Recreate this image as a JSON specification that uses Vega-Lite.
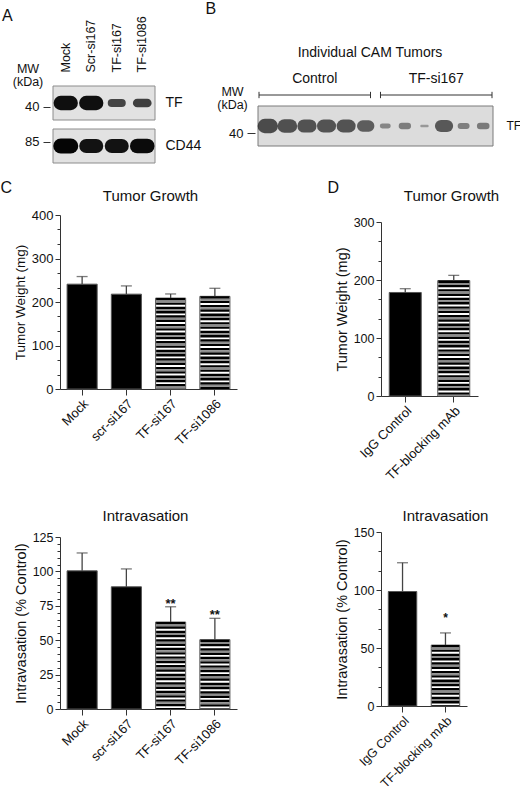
{
 "$schema": "https://vega.github.io/schema/vega-lite/v6.json",
 "background": "white",
 "padding": {"left": 0, "top": 0, "right": 2, "bottom": 2},
 "config": {
  "font": "Liberation Sans",
  "view": {"stroke": null},
  "axis": {"grid": false, "domainColor": "#333333", "tickColor": "#333333", "labelColor": "#111111", "titleColor": "#111111", "titleFontWeight": "normal", "labelFont": "Liberation Sans", "titleFont": "Liberation Sans", "labelOverlap": false}
 },
 "datasets": {
  "blotA_rows": [{"protein": "TF", "marker": "40"}, {"protein": "CD44", "marker": "85"}],
  "blotA_bands": [
   {"lane": "Mock", "protein": "TF", "intensity": 0.95},
   {"lane": "Scr-si167", "protein": "TF", "intensity": 0.95},
   {"lane": "TF-si167", "protein": "TF", "intensity": 0.5},
   {"lane": "TF-si1086", "protein": "TF", "intensity": 0.55},
   {"lane": "Mock", "protein": "CD44", "intensity": 1.0},
   {"lane": "Scr-si167", "protein": "CD44", "intensity": 0.93},
   {"lane": "TF-si167", "protein": "CD44", "intensity": 0.93},
   {"lane": "TF-si1086", "protein": "CD44", "intensity": 0.97}
  ],
  "blotB_rows": [{"protein": "TF", "marker": "40"}],
  "blotB_groups": [{"group": "Control"}, {"group": "TF-si167"}],
  "blotB_bands": [
   {"lane": 1, "group": "Control", "protein": "TF", "intensity": 0.95},
   {"lane": 2, "group": "Control", "protein": "TF", "intensity": 0.9},
   {"lane": 3, "group": "Control", "protein": "TF", "intensity": 0.87},
   {"lane": 4, "group": "Control", "protein": "TF", "intensity": 0.86},
   {"lane": 5, "group": "Control", "protein": "TF", "intensity": 0.86},
   {"lane": 6, "group": "Control", "protein": "TF", "intensity": 0.74},
   {"lane": 7, "group": "TF-si167", "protein": "TF", "intensity": 0.28},
   {"lane": 8, "group": "TF-si167", "protein": "TF", "intensity": 0.38},
   {"lane": 9, "group": "TF-si167", "protein": "TF", "intensity": 0.1},
   {"lane": 10, "group": "TF-si167", "protein": "TF", "intensity": 0.8},
   {"lane": 11, "group": "TF-si167", "protein": "TF", "intensity": 0.35},
   {"lane": 12, "group": "TF-si167", "protein": "TF", "intensity": 0.4}
  ],
  "growth_si": [
   {"treatment": "Mock", "target": "control", "mean": 241, "upper": 258.5},
   {"treatment": "scr-si167", "target": "control", "mean": 218, "upper": 237},
   {"treatment": "TF-si167", "target": "TF", "mean": 209, "upper": 218.5},
   {"treatment": "TF-si1086", "target": "TF", "mean": 213, "upper": 231.5}
  ],
  "intrav_si": [
   {"treatment": "Mock", "target": "control", "mean": 100.4, "upper": 113.4, "sig": ""},
   {"treatment": "scr-si167", "target": "control", "mean": 88.8, "upper": 101.8, "sig": ""},
   {"treatment": "TF-si167", "target": "TF", "mean": 63.2, "upper": 74.3, "sig": "**"},
   {"treatment": "TF-si1086", "target": "TF", "mean": 50.4, "upper": 65.9, "sig": "**"}
  ],
  "growth_ab": [
   {"treatment": "IgG Control", "target": "control", "mean": 178.5, "upper": 185},
   {"treatment": "TF-blocking mAb", "target": "TF", "mean": 199, "upper": 208}
  ],
  "intrav_ab": [
   {"treatment": "IgG Control", "target": "control", "mean": 98.7, "upper": 123.5, "sig": ""},
   {"treatment": "TF-blocking mAb", "target": "TF", "mean": 52.5, "upper": 63, "sig": "*"}
  ]
 },
 "columns": 2,
 "spacing": {"row": 52, "column": 144},
 "bounds": "flush",
 "align": {"row": "each", "column": "each"},
 "concat": [
  {
   "width": 54, "height": 97,
   "layer": [
    {"data": {"name": "blotA_rows"},
     "mark": {"type": "rect", "fill": "#e2e2e2", "stroke": "#8c8c8c", "strokeWidth": 1},
     "encoding": {
      "x": {"datum": "Mock", "type": "nominal", "bandPosition": 0, "scale": {"type": "band", "domain": ["Mock", "Scr-si167", "TF-si167", "TF-si1086"], "paddingInner": 0, "paddingOuter": 0, "range": [-7, 95]}, "axis": null},
      "x2": {"datum": "TF-si1086", "bandPosition": 1},
      "y": {"field": "protein", "type": "nominal", "scale": {"type": "band", "domain": ["TF", "CD44"], "paddingInner": 0.2093, "paddingOuter": 0.2326, "align": 1},
            "axis": {"orient": "right", "offset": 51, "ticks": false, "domain": false, "labelPadding": 0, "labelFontSize": 14, "labelAlign": "left", "title": null}}
     }},
    {"data": {"name": "blotA_bands"},
     "mark": {"type": "point", "shape": "stroke", "filled": false, "size": 100, "strokeCap": "round", "opacity": 1},
     "encoding": {
      "x": {"field": "lane", "type": "nominal", "scale": {"type": "band", "domain": ["Mock", "Scr-si167", "TF-si167", "TF-si1086"], "paddingInner": 0, "paddingOuter": 0, "range": [-7, 95]},
            "axis": {"orient": "top", "offset": -7, "labelAngle": -90, "labelAlign": "left", "labelBaseline": "middle", "labelPadding": 1, "labelFontSize": 12.5, "ticks": false, "domain": false,
                     "title": "A", "titleX": -58.5, "titleY": -52.7, "titleAngle": 0, "titleAlign": "left", "titleBaseline": "alphabetic", "titleFontSize": 16}},
      "y": {"field": "protein", "type": "nominal", "scale": {"type": "band", "domain": ["TF", "CD44"], "paddingInner": 0.2093, "paddingOuter": 0.2326, "align": 1}, "axis": null},
      "strokeWidth": {"field": "intensity", "type": "quantitative", "scale": {"domain": [0, 1], "range": [1, 15]}, "legend": null},
      "stroke": {"field": "intensity", "type": "quantitative", "scale": {"domain": [0, 1], "range": ["#8a8a8a", "#050505"]}, "legend": null}
     }},
    {"data": {"name": "blotA_rows"},
     "mark": {"type": "point", "opacity": 0},
     "encoding": {
      "y": {"field": "marker", "type": "nominal", "scale": {"type": "point", "domain": ["40", "85"], "padding": 0.886, "align": 0.661},
            "axis": {"orient": "left", "offset": 10, "tickSize": 7, "domain": false, "labelPadding": 4, "labelFontSize": 13,
                     "title": ["MW", "(kDa)"], "titleAngle": 0, "titleAlign": "center", "titleBaseline": "alphabetic", "titleX": -22.5, "titleY": 6.7, "titleFontSize": 12.5, "titleLineHeight": 13}}
     }}
   ],
   "resolve": {"scale": {"x": "independent", "y": "independent"}, "axis": {"x": "independent", "y": "independent"}}
  },
  {
   "width": 112, "height": 80,
   "layer": [
    {"data": {"name": "blotB_rows"},
     "mark": {"type": "rect", "fill": "#dcdcdc", "stroke": "#7a7a7a", "strokeWidth": 1},
     "encoding": {
      "x": {"datum": 1, "type": "ordinal", "bandPosition": 0, "scale": {"type": "band", "domain": [1, 2, 3, 4, 5, 6, 7, 8, 9, 10, 11, 12], "paddingInner": 0, "paddingOuter": 0, "range": [-123, 112]}, "axis": null},
      "x2": {"datum": 12, "bandPosition": 1},
      "y": {"field": "protein", "type": "nominal", "scale": {"type": "band", "domain": ["TF"], "paddingInner": 0, "paddingOuter": 0.5, "align": 1},
            "axis": {"orient": "right", "offset": 0, "ticks": false, "domain": false, "labelPadding": 13, "labelFontSize": 12, "labelAlign": "left", "title": null}}
     }},
    {"data": {"name": "blotB_bands"},
     "mark": {"type": "point", "shape": "stroke", "filled": false, "size": 36, "strokeCap": "round"},
     "encoding": {
      "x": {"field": "lane", "type": "ordinal", "scale": {"type": "band", "domain": [1, 2, 3, 4, 5, 6, 7, 8, 9, 10, 11, 12], "paddingInner": 0, "paddingOuter": 0, "range": [-123, 112]},
            "axis": {"orient": "top", "labels": false, "ticks": false, "domain": false, "title": "B", "titleX": -176, "titleY": -52.7, "titleAngle": 0, "titleAlign": "left", "titleBaseline": "alphabetic", "titleFontSize": 16}},
      "y": {"field": "protein", "type": "nominal", "scale": {"type": "band", "domain": ["TF"], "paddingInner": 0, "paddingOuter": 0.5, "align": 1}, "axis": null},
      "strokeWidth": {"field": "intensity", "type": "quantitative", "scale": {"domain": [0, 1], "range": [1, 6]}, "legend": null},
      "stroke": {"field": "intensity", "type": "quantitative", "scale": {"domain": [0, 1], "range": ["#d0d0d0", "#080808"]}, "legend": null}
     }},
    {"data": {"name": "blotB_rows"},
     "mark": {"type": "point", "opacity": 0},
     "encoding": {
      "y": {"field": "marker", "type": "nominal", "scale": {"type": "point", "domain": ["40"], "align": 0.8375},
            "axis": {"orient": "left", "offset": 126, "tickSize": 8, "domain": false, "labelPadding": 4, "labelFontSize": 13,
                     "title": ["MW", "(kDa)"], "titleAngle": 0, "titleAlign": "center", "titleBaseline": "alphabetic", "titleX": -23, "titleY": 29, "titleFontSize": 12.5, "titleLineHeight": 13}}
     }},
    {"data": {"name": "blotB_groups"},
     "mark": {"type": "text", "fontSize": 14, "baseline": "alphabetic", "color": "#111"},
     "encoding": {
      "x": {"field": "group", "type": "nominal", "scale": {"type": "band", "domain": ["Control", "TF-si167"], "range": [-122, 111], "paddingInner": 0.0823, "paddingOuter": 0},
            "axis": {"orient": "top", "labels": false, "ticks": false, "domain": false, "title": "Individual CAM Tumors", "titleX": -11.5, "titleY": -10, "titleAngle": 0, "titleAlign": "center", "titleBaseline": "alphabetic", "titleFontSize": 14}},
      "y": {"datum": "groups", "type": "nominal", "bandPosition": 0.43, "scale": {"type": "band", "domain": ["groups", "blot"], "paddingInner": 0, "paddingOuter": 0}, "axis": null},
      "text": {"field": "group"}
     }},
    {"data": {"name": "blotB_groups"},
     "mark": {"type": "rule", "stroke": "#333", "strokeWidth": 1},
     "encoding": {
      "x": {"field": "group", "type": "nominal", "bandPosition": 0, "scale": {"type": "band", "domain": ["Control", "TF-si167"], "range": [-122, 111], "paddingInner": 0.0823, "paddingOuter": 0}, "axis": null},
      "x2": {"field": "group", "bandPosition": 1},
      "y": {"datum": "groups", "type": "nominal", "bandPosition": 0.725, "scale": {"type": "band", "domain": ["groups", "blot"], "paddingInner": 0, "paddingOuter": 0}, "axis": null}
     }},
    {"data": {"name": "blotB_groups"},
     "mark": {"type": "point", "shape": "M0,-1L0,1", "filled": false, "stroke": "#333", "strokeWidth": 1, "size": 40, "opacity": 1},
     "encoding": {
      "x": {"field": "group", "type": "nominal", "bandPosition": 0, "scale": {"type": "band", "domain": ["Control", "TF-si167"], "range": [-122, 111], "paddingInner": 0.0823, "paddingOuter": 0}, "axis": null},
      "y": {"datum": "groups", "type": "nominal", "bandPosition": 0.725, "scale": {"type": "band", "domain": ["groups", "blot"], "paddingInner": 0, "paddingOuter": 0}, "axis": null}
     }},
    {"data": {"name": "blotB_groups"},
     "mark": {"type": "point", "shape": "M0,-1L0,1", "filled": false, "stroke": "#333", "strokeWidth": 1, "size": 40, "opacity": 1},
     "encoding": {
      "x": {"field": "group", "type": "nominal", "bandPosition": 1, "scale": {"type": "band", "domain": ["Control", "TF-si167"], "range": [-122, 111], "paddingInner": 0.0823, "paddingOuter": 0}, "axis": null},
      "y": {"datum": "groups", "type": "nominal", "bandPosition": 0.725, "scale": {"type": "band", "domain": ["groups", "blot"], "paddingInner": 0, "paddingOuter": 0}, "axis": null}
     }}
   ],
   "resolve": {"scale": {"x": "independent", "y": "independent"}, "axis": {"x": "independent", "y": "independent"}}
  },
  {
   "data": {"name": "growth_si"},
   "width": 177, "height": 174,
   "encoding": {
    "x": {"field": "treatment", "type": "nominal", "scale": {"domain": ["Mock", "scr-si167", "TF-si167", "TF-si1086"], "paddingInner": 0.32, "paddingOuter": 0.16}, "axis": null},
    "y": {"field": "mean", "type": "quantitative", "scale": {"domain": [0, 400]}, "axis": null}
   },
   "layer": [
    {"mark": {"type": "bar", "stroke": "#555", "strokeWidth": 1},
     "encoding": {
      "x": {"field": "treatment", "type": "nominal", "scale": {"domain": ["Mock", "scr-si167", "TF-si167", "TF-si1086"], "paddingInner": 0.32, "paddingOuter": 0.16},
            "axis": {"orient": "bottom", "labelAngle": -45, "labelAlign": "right", "labelBaseline": "top", "labelFontSize": 13, "labelPadding": 2, "tickSize": 6,
                     "title": "C", "titleX": -60, "titleY": -197, "titleAngle": 0, "titleAlign": "left", "titleBaseline": "alphabetic", "titleFontSize": 16}},
      "y": {"field": "mean", "type": "quantitative", "scale": {"domain": [0, 400]},
            "axis": {"orient": "left", "values": [0, 33.333, 66.667, 100, 133.333, 166.667, 200, 233.333, 266.667, 300, 333.333, 366.667, 400],
                     "labelExpr": "datum.value % 100 === 0 ? datum.label : ''", "tickSize": {"condition": {"test": "datum.value % 100 === 0", "value": 5}, "value": 3},
                     "labelFontSize": 13, "labelPadding": 2, "title": "Tumor Weight (mg)", "titleFontSize": 13.5, "titlePadding": 4}},
      "fill": {"field": "target", "type": "nominal", "scale": {"domain": ["control", "TF"], "range": ["#000000", "#ffffff"]}, "legend": null}
     }},
    {"transform": [{"filter": "datum.target === 'TF'"}],
     "mark": {"type": "rule", "stroke": "#000", "strokeWidth": 29, "strokeDash": [2.4, 1.9]},
     "encoding": {"y2": {"datum": 0}}},
    {"transform": [{"filter": "datum.target === 'TF'"}],
     "mark": {"type": "rule", "stroke": "#8c8c8c", "strokeWidth": 29, "strokeDash": [1.9, 6.7], "strokeDashOffset": 6.2},
     "encoding": {"y2": {"datum": 0}}},
    {"mark": {"type": "rule", "stroke": "#444", "strokeWidth": 1.3},
     "encoding": {"y2": {"field": "upper"}}},
    {"mark": {"type": "tick", "color": "#444", "thickness": 1.3, "size": 11},
     "encoding": {
      "x": {"field": "treatment", "type": "nominal", "scale": {"domain": ["Mock", "scr-si167", "TF-si167", "TF-si1086"], "paddingInner": 0.32, "paddingOuter": 0.16},
            "axis": {"orient": "top", "labels": false, "ticks": false, "domain": false, "title": "Tumor Growth", "titleX": 90, "titleY": -14.5, "titleAngle": 0, "titleAlign": "center", "titleBaseline": "alphabetic", "titleFontSize": 15}},
      "y": {"field": "upper", "type": "quantitative", "scale": {"domain": [0, 400]}, "axis": null}
     }}
   ],
   "resolve": {"axis": {"x": "independent", "y": "independent"}}
  },
  {
   "data": {"name": "growth_ab"},
   "width": 97, "height": 181,
   "encoding": {
    "x": {"field": "treatment", "type": "nominal", "scale": {"domain": ["IgG Control", "TF-blocking mAb"], "paddingInner": 0.34, "paddingOuter": 0.17}, "axis": null},
    "y": {"field": "mean", "type": "quantitative", "scale": {"domain": [0, 300], "range": [181, 7]}, "axis": null}
   },
   "layer": [
    {"mark": {"type": "bar", "stroke": "#555", "strokeWidth": 1},
     "encoding": {
      "x": {"field": "treatment", "type": "nominal", "scale": {"domain": ["IgG Control", "TF-blocking mAb"], "paddingInner": 0.34, "paddingOuter": 0.17},
            "axis": {"orient": "bottom", "labelAngle": -45, "labelAlign": "right", "labelBaseline": "top", "labelFontSize": 13, "labelPadding": 2, "tickSize": 6,
                     "title": "D", "titleX": -54, "titleY": -204, "titleAngle": 0, "titleAlign": "left", "titleBaseline": "alphabetic", "titleFontSize": 16}},
      "y": {"field": "mean", "type": "quantitative", "scale": {"domain": [0, 300], "range": [181, 7]},
            "axis": {"orient": "left", "values": [0, 33.333, 66.667, 100, 133.333, 166.667, 200, 233.333, 266.667, 300],
                     "labelExpr": "datum.value % 100 === 0 ? datum.label : ''", "tickSize": {"condition": {"test": "datum.value % 100 === 0", "value": 5}, "value": 3},
                     "labelFontSize": 12.5, "labelPadding": 2, "title": "Tumor Weight (mg)", "titleFontSize": 14.5, "titlePadding": 4}},
      "fill": {"field": "target", "type": "nominal", "scale": {"domain": ["control", "TF"], "range": ["#000000", "#ffffff"]}, "legend": null}
     }},
    {"transform": [{"filter": "datum.target === 'TF'"}],
     "mark": {"type": "rule", "stroke": "#000", "strokeWidth": 31, "strokeDash": [2.4, 1.9]},
     "encoding": {"y2": {"datum": 0}}},
    {"transform": [{"filter": "datum.target === 'TF'"}],
     "mark": {"type": "rule", "stroke": "#8c8c8c", "strokeWidth": 31, "strokeDash": [1.9, 6.7], "strokeDashOffset": 6.2},
     "encoding": {"y2": {"datum": 0}}},
    {"mark": {"type": "rule", "stroke": "#444", "strokeWidth": 1.3},
     "encoding": {"y2": {"field": "upper"}}},
    {"mark": {"type": "tick", "color": "#444", "thickness": 1.3, "size": 11},
     "encoding": {
      "x": {"field": "treatment", "type": "nominal", "scale": {"domain": ["IgG Control", "TF-blocking mAb"], "paddingInner": 0.34, "paddingOuter": 0.17},
            "axis": {"orient": "top", "labels": false, "ticks": false, "domain": false, "title": "Tumor Growth", "titleX": 70, "titleY": -14.3, "titleAngle": 0, "titleAlign": "center", "titleBaseline": "alphabetic", "titleFontSize": 15}},
      "y": {"field": "upper", "type": "quantitative", "scale": {"domain": [0, 300], "range": [181, 7]}, "axis": null}
     }}
   ],
   "resolve": {"axis": {"x": "independent", "y": "independent"}}
  },
  {
   "data": {"name": "intrav_si"},
   "width": 177, "height": 261,
   "encoding": {
    "x": {"field": "treatment", "type": "nominal", "scale": {"domain": ["Mock", "scr-si167", "TF-si167", "TF-si1086"], "paddingInner": 0.32, "paddingOuter": 0.16}, "axis": null},
    "y": {"field": "mean", "type": "quantitative", "scale": {"domain": [0, 125], "range": [261, 89]}, "axis": null}
   },
   "layer": [
    {"mark": {"type": "bar", "stroke": "#555", "strokeWidth": 1},
     "encoding": {
      "x": {"field": "treatment", "type": "nominal", "scale": {"domain": ["Mock", "scr-si167", "TF-si167", "TF-si1086"], "paddingInner": 0.32, "paddingOuter": 0.16},
            "axis": {"orient": "bottom", "labelAngle": -45, "labelAlign": "right", "labelBaseline": "top", "labelFontSize": 13, "labelPadding": 2, "tickSize": 6,
                     "title": "Intravasation", "titleX": 85, "titleY": -189, "titleAngle": 0, "titleAlign": "center", "titleBaseline": "alphabetic", "titleFontSize": 15}},
      "y": {"field": "mean", "type": "quantitative", "scale": {"domain": [0, 125], "range": [261, 89]},
            "axis": {"orient": "left", "values": [0, 5, 10, 15, 20, 25, 30, 35, 40, 45, 50, 55, 60, 65, 70, 75, 80, 85, 90, 95, 100, 105, 110, 115, 120, 125],
                     "labelExpr": "datum.value % 25 === 0 ? datum.label : ''", "tickSize": {"condition": {"test": "datum.value % 25 === 0", "value": 5}, "value": 3},
                     "labelFontSize": 12.5, "labelPadding": 2, "title": "Intravasation (% Control)", "titleFontSize": 14.5, "titlePadding": 4}},
      "fill": {"field": "target", "type": "nominal", "scale": {"domain": ["control", "TF"], "range": ["#000000", "#ffffff"]}, "legend": null}
     }},
    {"transform": [{"filter": "datum.target === 'TF'"}],
     "mark": {"type": "rule", "stroke": "#000", "strokeWidth": 29, "strokeDash": [2.4, 1.9]},
     "encoding": {"y2": {"datum": 0}}},
    {"transform": [{"filter": "datum.target === 'TF'"}],
     "mark": {"type": "rule", "stroke": "#8c8c8c", "strokeWidth": 29, "strokeDash": [1.9, 6.7], "strokeDashOffset": 6.2},
     "encoding": {"y2": {"datum": 0}}},
    {"mark": {"type": "rule", "stroke": "#444", "strokeWidth": 1.3},
     "encoding": {"y2": {"field": "upper"}}},
    {"mark": {"type": "tick", "color": "#444", "thickness": 1.3, "size": 11},
     "encoding": {"y": {"field": "upper", "type": "quantitative", "scale": {"domain": [0, 125], "range": [261, 89]}, "axis": null}}},
    {"transform": [{"filter": "datum.sig !== ''"}],
     "mark": {"type": "text", "fontSize": 13, "fontWeight": "bold", "baseline": "alphabetic", "dy": 1, "color": "#111"},
     "encoding": {"y": {"field": "upper", "type": "quantitative", "scale": {"domain": [0, 125], "range": [261, 89]}, "axis": null}, "text": {"field": "sig"}}}
   ],
   "resolve": {"axis": {"x": "independent", "y": "independent"}}
  },
  {
   "data": {"name": "intrav_ab"},
   "width": 86, "height": 258,
   "encoding": {
    "x": {"field": "treatment", "type": "nominal", "scale": {"domain": ["IgG Control", "TF-blocking mAb"], "paddingInner": 0.337, "paddingOuter": 0.17}, "axis": null},
    "y": {"field": "mean", "type": "quantitative", "scale": {"domain": [0, 150], "range": [258, 84]}, "axis": null}
   },
   "layer": [
    {"mark": {"type": "bar", "stroke": "#555", "strokeWidth": 1},
     "encoding": {
      "x": {"field": "treatment", "type": "nominal", "scale": {"domain": ["IgG Control", "TF-blocking mAb"], "paddingInner": 0.337, "paddingOuter": 0.17},
            "axis": {"orient": "bottom", "labelAngle": -45, "labelAlign": "right", "labelBaseline": "top", "labelFontSize": 12.5, "labelPadding": 2, "tickSize": 6,
                     "title": "Intravasation", "titleX": 64, "titleY": -186, "titleAngle": 0, "titleAlign": "center", "titleBaseline": "alphabetic", "titleFontSize": 15}},
      "y": {"field": "mean", "type": "quantitative", "scale": {"domain": [0, 150], "range": [258, 84]},
            "axis": {"orient": "left", "values": [0, 16.667, 33.333, 50, 66.667, 83.333, 100, 116.667, 133.333, 150],
                     "labelExpr": "datum.value % 50 === 0 ? datum.label : ''", "tickSize": {"condition": {"test": "datum.value % 50 === 0", "value": 5}, "value": 3},
                     "labelFontSize": 12.5, "labelPadding": 2, "title": "Intravasation (% Control)", "titleFontSize": 14.5, "titlePadding": 4}},
      "fill": {"field": "target", "type": "nominal", "scale": {"domain": ["control", "TF"], "range": ["#000000", "#ffffff"]}, "legend": null}
     }},
    {"transform": [{"filter": "datum.target === 'TF'"}],
     "mark": {"type": "rule", "stroke": "#000", "strokeWidth": 27.5, "strokeDash": [2.4, 1.9]},
     "encoding": {"y2": {"datum": 0}}},
    {"transform": [{"filter": "datum.target === 'TF'"}],
     "mark": {"type": "rule", "stroke": "#8c8c8c", "strokeWidth": 27.5, "strokeDash": [1.9, 6.7], "strokeDashOffset": 6.2},
     "encoding": {"y2": {"datum": 0}}},
    {"mark": {"type": "rule", "stroke": "#444", "strokeWidth": 1.3},
     "encoding": {"y2": {"field": "upper"}}},
    {"mark": {"type": "tick", "color": "#444", "thickness": 1.3, "size": 11},
     "encoding": {"y": {"field": "upper", "type": "quantitative", "scale": {"domain": [0, 150], "range": [258, 84]}, "axis": null}}},
    {"transform": [{"filter": "datum.sig !== ''"}],
     "mark": {"type": "text", "fontSize": 12, "fontWeight": "bold", "baseline": "alphabetic", "dy": -11, "color": "#111"},
     "encoding": {"y": {"field": "upper", "type": "quantitative", "scale": {"domain": [0, 150], "range": [258, 84]}, "axis": null}, "text": {"field": "sig"}}}
   ],
   "resolve": {"axis": {"x": "independent", "y": "independent"}}
  }
 ]
}
